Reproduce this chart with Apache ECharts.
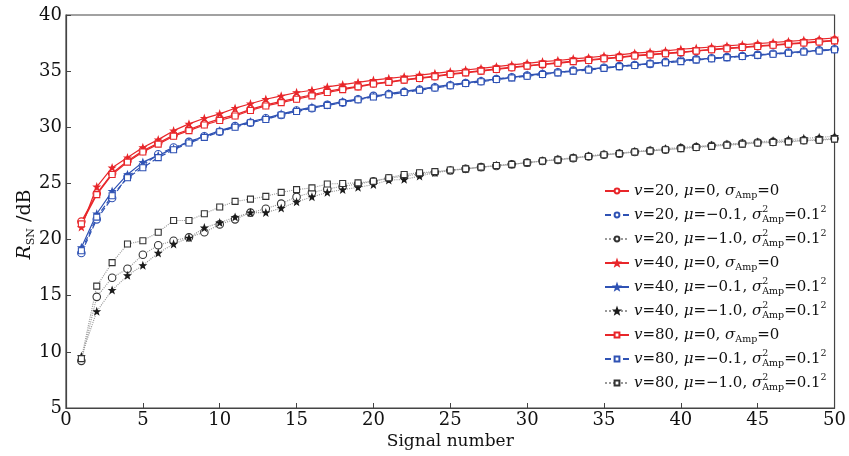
<!DOCTYPE html>
<html>
<head>
<meta charset="utf-8">
<script src="https://cdn.jsdelivr.net/npm/echarts@6/dist/echarts.min.js"></script>
<style>
  html, body { margin: 0; padding: 0; background: #fff; }
  #main { width: 849px; height: 456px; }
</style>
</head>
<body>
<div id="main"></div>
<script>
// signal index 1..50
let signalNo = [];
for (let i = 1; i <= 50; i++) signalNo.push(i);

// mu = 0, sigma = 0 (red)
let v20_mu0 = [21.6, 24.1, 25.9, 27.0, 27.9, 28.6, 29.3, 29.8, 30.3, 30.75, 31.1, 31.6, 32.0, 32.3, 32.6, 32.9, 33.2, 33.45, 33.65, 33.9, 34.05, 34.25, 34.4, 34.55, 34.75, 34.9, 35.05, 35.2, 35.35, 35.5, 35.6, 35.75, 35.9, 36.0, 36.15, 36.25, 36.4, 36.5, 36.6, 36.7, 36.8, 36.95, 37.05, 37.15, 37.25, 37.35, 37.45, 37.55, 37.65, 37.75];
let v40_mu0 = [21.1, 24.7, 26.4, 27.3, 28.2, 28.9, 29.7, 30.3, 30.8, 31.2, 31.7, 32.1, 32.5, 32.8, 33.1, 33.3, 33.6, 33.8, 34.0, 34.2, 34.35, 34.5, 34.65, 34.8, 34.95, 35.1, 35.25, 35.4, 35.55, 35.7, 35.85, 35.95, 36.1, 36.2, 36.35, 36.45, 36.6, 36.7, 36.8, 36.95, 37.05, 37.15, 37.25, 37.35, 37.45, 37.55, 37.65, 37.75, 37.85, 37.95];
let v80_mu0 = [21.4, 24.0, 25.8, 26.9, 27.8, 28.5, 29.2, 29.7, 30.2, 30.6, 31.0, 31.5, 31.9, 32.2, 32.5, 32.8, 33.1, 33.35, 33.6, 33.85, 34.0, 34.2, 34.35, 34.5, 34.7, 34.85, 35.0, 35.15, 35.3, 35.45, 35.6, 35.7, 35.85, 35.95, 36.1, 36.2, 36.35, 36.45, 36.55, 36.65, 36.8, 36.9, 37.0, 37.1, 37.2, 37.3, 37.4, 37.5, 37.6, 37.7];

// mu = -0.1 (blue)
let v20_mu01 = [18.8, 21.8, 23.7, 25.6, 26.6, 27.6, 28.2, 28.7, 29.2, 29.6, 30.1, 30.4, 30.8, 31.1, 31.5, 31.7, 32.0, 32.2, 32.5, 32.8, 32.95, 33.15, 33.35, 33.55, 33.75, 33.95, 34.1, 34.3, 34.45, 34.6, 34.75, 34.9, 35.05, 35.15, 35.3, 35.45, 35.55, 35.65, 35.8, 35.95, 36.05, 36.15, 36.25, 36.35, 36.45, 36.55, 36.65, 36.75, 36.85, 36.95];
let v40_mu01 = [19.3, 22.3, 24.3, 25.8, 26.9, 27.5, 28.1, 28.7, 29.2, 29.7, 30.1, 30.5, 30.8, 31.2, 31.5, 31.8, 32.0, 32.3, 32.5, 32.75, 33.0, 33.2, 33.4, 33.6, 33.8, 33.95, 34.15, 34.3, 34.45, 34.65, 34.8, 34.9, 35.05, 35.2, 35.3, 35.45, 35.55, 35.7, 35.8, 35.95, 36.05, 36.15, 36.25, 36.35, 36.45, 36.55, 36.65, 36.75, 36.85, 36.95];
let v80_mu01 = [19.0, 22.0, 23.9, 25.5, 26.4, 27.3, 28.0, 28.6, 29.1, 29.6, 30.0, 30.4, 30.7, 31.1, 31.4, 31.7, 31.95, 32.2, 32.45, 32.7, 32.9, 33.1, 33.3, 33.5, 33.7, 33.9, 34.05, 34.25, 34.4, 34.55, 34.7, 34.85, 35.0, 35.1, 35.25, 35.4, 35.5, 35.65, 35.75, 35.85, 36.0, 36.1, 36.2, 36.3, 36.4, 36.5, 36.6, 36.7, 36.8, 36.9];

// mu = -1.0 (black)
let v20_mu1 = [9.2, 14.9, 16.6, 17.4, 18.65, 19.5, 19.9, 20.2, 20.65, 21.35, 21.8, 22.4, 22.75, 23.2, 23.8, 24.2, 24.5, 24.75, 24.95, 25.2, 25.45, 25.65, 25.85, 26.0, 26.15, 26.3, 26.45, 26.55, 26.7, 26.85, 27.0, 27.1, 27.25, 27.4, 27.55, 27.65, 27.8, 27.9, 28.0, 28.15, 28.25, 28.35, 28.45, 28.55, 28.65, 28.7, 28.75, 28.85, 28.9, 29.0];
let v40_mu1 = [9.6, 13.6, 15.5, 16.8, 17.7, 18.8, 19.6, 20.15, 21.05, 21.5, 22.0, 22.4, 22.4, 22.8, 23.35, 23.8, 24.2, 24.45, 24.65, 24.9, 25.3, 25.35, 25.65, 25.95, 26.15, 26.3, 26.45, 26.6, 26.7, 26.85, 27.0, 27.15, 27.3, 27.45, 27.6, 27.7, 27.85, 27.95, 28.1, 28.2, 28.3, 28.4, 28.5, 28.6, 28.7, 28.8, 28.9, 29.0, 29.1, 29.2];
let v80_mu1 = [9.4, 15.85, 17.95, 19.6, 19.9, 20.65, 21.7, 21.7, 22.3, 22.9, 23.4, 23.6, 23.85, 24.2, 24.45, 24.6, 24.95, 25.0, 25.05, 25.2, 25.5, 25.8, 25.95, 26.05, 26.2, 26.3, 26.45, 26.6, 26.7, 26.85, 27.0, 27.1, 27.25, 27.4, 27.55, 27.65, 27.8, 27.9, 28.0, 28.1, 28.2, 28.3, 28.4, 28.5, 28.6, 28.65, 28.7, 28.8, 28.85, 28.95];

let legendNames = [
  'v=20, μ=0, σAmp=0',
  'v=20, μ=-0.1, σAmp=0.1',
  'v=20, μ=-1.0, σAmp=0.1',
  'v=40, μ=0, σAmp=0',
  'v=40, μ=-0.1, σAmp=0.1',
  'v=40, μ=-1.0, σAmp=0.1',
  'v=80, μ=0, σAmp=0',
  'v=80, μ=-0.1, σAmp=0.1',
  'v=80, μ=-1.0, σAmp=0.1'
];
// rich text versions of the legend labels
let legendRich = [
  '{it|v}=20, {it|μ}=0, {it|σ}{sub|Amp}=0',
  '{it|v}=20, {it|μ}=−0.1, {it|σ}{sup0|2}{sub|Amp}=0.1{sup|2}',
  '{it|v}=20, {it|μ}=−1.0, {it|σ}{sup0|2}{sub|Amp}=0.1{sup|2}',
  '{it|v}=40, {it|μ}=0, {it|σ}{sub|Amp}=0',
  '{it|v}=40, {it|μ}=−0.1, {it|σ}{sup0|2}{sub|Amp}=0.1{sup|2}',
  '{it|v}=40, {it|μ}=−1.0, {it|σ}{sup0|2}{sub|Amp}=0.1{sup|2}',
  '{it|v}=80, {it|μ}=0, {it|σ}{sub|Amp}=0',
  '{it|v}=80, {it|μ}=−0.1, {it|σ}{sup0|2}{sub|Amp}=0.1{sup|2}',
  '{it|v}=80, {it|μ}=−1.0, {it|σ}{sup0|2}{sub|Amp}=0.1{sup|2}'
];

const RED = '#e8262a', BLUE = '#2f52b4', BLACK = '#1a1a1a';
const STAR = 'path://M0,-10L2.4,-3.3L9.5,-3.1L3.9,1.3L5.9,8.1L0,4.1L-5.9,8.1L-3.9,1.3L-9.5,-3.1L-2.4,-3.3Z';

function pairs(arr) {
  return arr.map(function(v, i) { return [signalNo[i], v]; });
}

function mkSeries(name, data, color, symbol, size, lineType, lineColor, filled) {
  return {
    name: name,
    type: 'line',
    data: pairs(data),
    symbol: symbol,
    symbolSize: size,
    showAllSymbol: true,
    animation: false,
    lineStyle: { color: lineColor || color, width: lineType === 'dotted' ? 1.1 : 1.2, type: lineType },
    itemStyle: { color: filled ? color : '#fff', borderColor: color, borderWidth: 1.1 }
  };
}

let series = [
  mkSeries(legendNames[2], v20_mu1, '#333', 'circle', 7.5, 'dotted', '#999', false),
  mkSeries(legendNames[5], v40_mu1, BLACK, STAR, 6, 'dotted', '#999', true),
  mkSeries(legendNames[8], v80_mu1, '#333', 'rect', 6, 'dotted', '#999', false),
  mkSeries(legendNames[1], v20_mu01, BLUE, 'circle', 7.5, [6, 3], null, false),
  mkSeries(legendNames[4], v40_mu01, BLUE, STAR, 6, 'solid', null, true),
  mkSeries(legendNames[7], v80_mu01, BLUE, 'rect', 6, [6, 3], null, false),
  mkSeries(legendNames[0], v20_mu0, RED, 'circle', 7.5, 'solid', null, false),
  mkSeries(legendNames[3], v40_mu0, RED, STAR, 6, 'solid', null, true),
  mkSeries(legendNames[6], v80_mu0, RED, 'rect', 6, 'solid', null, false)
];

const FONT = '"DejaVu Serif", "Liberation Serif", serif';

let chart = echarts.init(document.getElementById('main'));
chart.setOption({
  backgroundColor: '#fff',
  animation: false,
  grid: {
    left: 66, right: 8, top: 15, bottom: 48,
    show: true, borderColor: '#444', borderWidth: 1.2
  },
  legend: {
    data: legendNames,
    orient: 'vertical',
    left: 604,
    top: 181,
    itemWidth: 24,
    itemHeight: 6,
    itemGap: 4,
    padding: 0,
    formatter: function(name) {
      return legendRich[legendNames.indexOf(name)];
    },
    textStyle: {
      fontFamily: FONT,
      fontSize: 15,
      color: '#111',
      lineHeight: 20,
      rich: {
        it: { fontFamily: FONT, fontStyle: 'italic', fontSize: 15, color: '#111', lineHeight: 20 },
        sub: { fontFamily: FONT, fontSize: 9.5, color: '#111', verticalAlign: 'bottom', lineHeight: 12 },
        sup: { fontFamily: FONT, fontSize: 9.5, color: '#111', verticalAlign: 'top', lineHeight: 12 },
        sup0: { fontFamily: FONT, fontSize: 9.5, color: '#111', verticalAlign: 'top', lineHeight: 12, width: 0 }
      }
    }
  },
  xAxis: {
    type: 'value',
    min: 0, max: 50, interval: 5,
    name: 'Signal number',
    nameLocation: 'middle',
    nameGap: 25,
    nameMoveOverlap: false,
    nameTextStyle: { fontFamily: FONT, fontSize: 17, color: '#111' },
    axisLine: { lineStyle: { color: '#444', width: 1.2 } },
    axisTick: { inside: true, length: 5, lineStyle: { color: '#444' } },
    axisLabel: { fontFamily: FONT, fontSize: 18, color: '#111', margin: 3 },
    splitLine: { show: false }
  },
  yAxis: {
    type: 'value',
    min: 5, max: 40, interval: 5,
    name: '{it|R}{sub|SN} /dB',
    nameLocation: 'middle',
    nameRotate: 90,
    nameGap: 29,
    nameMoveOverlap: false,
    nameTextStyle: {
      fontFamily: FONT, fontSize: 19, color: '#111',
      padding: [0, 26, 0, 0],
      rich: {
        it: { fontFamily: FONT, fontStyle: 'italic', fontSize: 19, color: '#111', lineHeight: 24 },
        sub: { fontFamily: FONT, fontSize: 11, color: '#111', verticalAlign: 'bottom', lineHeight: 14 }
      }
    },
    axisLine: { lineStyle: { color: '#444', width: 1.2 } },
    axisTick: { inside: true, length: 5, lineStyle: { color: '#444' } },
    axisLabel: { fontFamily: FONT, fontSize: 18, color: '#111', margin: 4 },
    splitLine: { show: false }
  },
  series: series
});
</script>
</body>
</html>
